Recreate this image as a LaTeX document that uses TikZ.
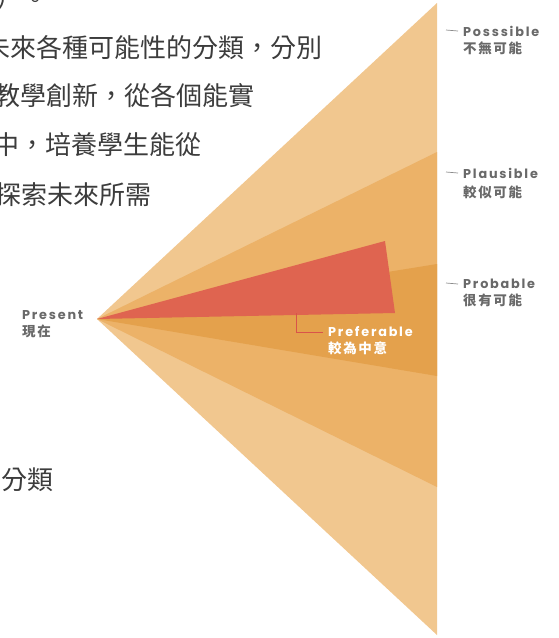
\documentclass[tikz,border=0pt]{standalone}
\usepackage{fontspec}
\newfontfamily\cjk{Noto Sans CJK TC}
\newfontfamily\cjklab{Noto Sans CJK TC}[LetterSpace=12]
\newfontfamily\labfont{Poppins}[LetterSpace=14]
\definecolor{possc}{RGB}{241,199,143}
\definecolor{plauc}{RGB}{236,178,104}
\definecolor{probc}{RGB}{228,161,76}
\definecolor{prefc}{RGB}{223,100,80}
\definecolor{bodygray}{RGB}{60,60,60}
\definecolor{labgray}{RGB}{105,105,105}
\definecolor{tickgray}{RGB}{140,140,140}
\definecolor{redline}{RGB}{217,83,74}
\tikzset{
  body/.style={anchor=base west, inner sep=0pt, font=\cjk\fontsize{26}{26}\selectfont, text=bodygray},
  enlab/.style={anchor=west, inner sep=0pt, font=\labfont\bfseries\fontsize{12.8}{13}\selectfont, text=labgray},
  zhlab/.style={anchor=west, inner sep=0pt, font=\cjklab\bfseries\fontsize{13.5}{14}\selectfont, text=labgray},
  tick/.style={draw=tickgray, line width=0.7pt},
}
\begin{document}
\begin{tikzpicture}[x=1pt,y=-1pt]
\useasboundingbox (0,0) rectangle (559,638);
% cone bands
\coordinate (apex) at (97,319);
\fill[possc] (apex) -- (437,3) -- (437,635) -- cycle;
\fill[plauc] (apex) -- (437,152) -- (437,487) -- cycle;
\fill[probc] (apex) -- (437,264) -- (437,376) -- cycle;
\fill[prefc] (apex) -- (385,241) -- (395,313) -- cycle;
% body text
\node[body] (t0) at (-4,8) {）。};
\node[body] (t1) at (-16,57) {未來各種可能性的分類，分別};
\node[body] (t2) at (-6,105) {教學創新，從各個能實};
\node[body] (t3) at (-7,154) {中，培養學生能從};
\node[body] (t4) at (-5,204) {探索未來所需};
\node[body] (t5) at (1,489) {分類};
% labels
\node[enlab] (possEN) at (463,31) {Posssible};
\node[zhlab] (possZH) at (463,48) {不無可能};
\node[enlab] (plauEN) at (463,173) {Plausible};
\node[zhlab] (plauZH) at (463,192) {較似可能};
\node[enlab] (probEN) at (463,284) {Probable};
\node[zhlab] (probZH) at (463,300) {很有可能};
\node[enlab] (presEN) at (22,315) {Present};
\node[zhlab] (presZH) at (22,331) {現在};
\node[enlab, text=white] (prefEN) at (328,332) {Preferable};
\node[zhlab, text=white] (prefZH) at (328,348) {較為中意};
% ticks
\coordinate (possT) at (446,30);
\coordinate (plauT) at (446,172);
\coordinate (probT) at (446,283);
\draw[tick] (possT) -- ([xshift=-5pt]possEN.west);
\draw[tick] (plauT) -- ([xshift=-5pt]plauEN.west);
\draw[tick] (probT) -- ([xshift=-5pt]probEN.west);
\coordinate (prefT) at (296,313);
\draw[draw=redline, line width=0.9pt] (prefT) |- ([xshift=-5pt]prefEN.west);
\end{tikzpicture}
\end{document}
